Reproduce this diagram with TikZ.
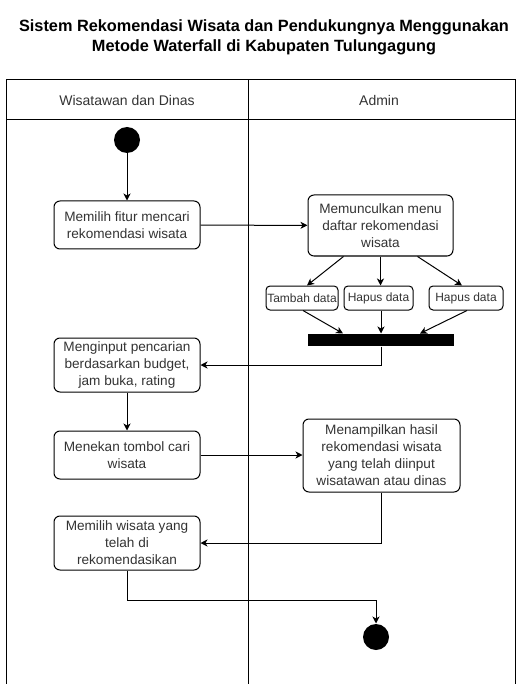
\documentclass[tikz,border=0pt]{standalone}
\usepackage{fontspec}
\setmainfont{Liberation Sans}
\usetikzlibrary{calc, arrows.meta, positioning}

\begin{document}
\begin{tikzpicture}[x=1pt, y=-1pt, line width=1pt,
    act/.style={draw, rounded corners=6pt, align=center, inner sep=1pt, text=black!80,
        font=\fontsize{13.6}{17}\selectfont},
    small/.style={act, rounded corners=4pt, font=\fontsize{12}{14}\selectfont},
    arr/.style={-{Stealth[length=7pt, width=7pt, inset=2pt]}},
    dot/.style={circle, fill=black, inner sep=0pt, minimum size=26pt}]
    \useasboundingbox (0,0) rectangle (520,684);
    \node (title) at (264,37) [align=center, font=\fontsize{16.3}{20}\bfseries]
        {Sistem Rekomendasi Wisata dan Pendukungnya Menggunakan\\Metode Waterfall di Kabupaten Tulungagung};
    \draw (6,684) -- (6,80) -- (515,80) -- (515,684);
    \draw (6,120) -- (515,120);
    \draw (248,80) -- (248,684);
    \node (laneA) at (127,100) [text=black!80, font=\fontsize{14}{17}\selectfont] {Wisatawan dan Dinas};
    \node (laneB) at (379,100) [text=black!80, font=\fontsize{14}{17}\selectfont] {Admin};
    \node (start) at (127,140) [dot] {};
    \node (pilih) at (127,225) [act, minimum width=146pt, minimum height=48pt]
        {Memilih fitur mencari\\rekomendasi wisata};
    \node (menu) at (380.5,225.5) [act, minimum width=145pt, minimum height=61pt]
        {Memunculkan menu\\daftar rekomendasi\\wisata};
    \node (tambah) at (302,298) [small, minimum width=72pt, minimum height=24pt] {Tambah data};
    \node (hapusA) at (378.5,298) [small, minimum width=69pt, minimum height=24pt] {Hapus data};
    \node (hapusB) at (466,298) [small, minimum width=74pt, minimum height=24pt] {Hapus data};
    \node (bar) at (381,340) [fill=black, inner sep=0pt, minimum width=146pt, minimum height=12pt] {};
    \node (input) at (127,365) [act, minimum width=146pt, minimum height=54pt]
        {Menginput pencarian\\berdasarkan budget,\\jam buka, rating};
    \node (tekan) at (127,455) [act, minimum width=146pt, minimum height=48pt]
        {Menekan tombol cari\\wisata};
    \node (hasil) at (381.5,455.5) [act, minimum width=157pt, minimum height=73pt]
        {Menampilkan hasil\\rekomendasi wisata\\yang telah diinput\\wisatawan atau dinas};
    \node (pilihW) at (127,543) [act, minimum width=146pt, minimum height=54pt]
        {Memilih wisata yang\\telah di\\rekomendasikan};
    \node (end) at (376,637) [dot] {};
    \coordinate (turn) at (376,600);
    \draw[arr] (start) -- (pilih);
    \draw[arr] (pilih) -- (menu);
    \draw[arr] ([xshift=-37pt]menu.south) -- ([xshift=5pt]tambah.north);
    \draw[arr] (menu.south) -- (menu.south |- hapusA.north);
    \draw[arr] ([xshift=37pt]menu.south) -- ([xshift=-4pt]hapusB.north);
    \draw[arr] ([xshift=1pt]tambah.south) -- ([xshift=-38pt]bar.north);
    \draw[arr] (hapusA.south -| bar.north) -- (bar.north);
    \draw[arr] ([xshift=1pt]hapusB.south) -- ([xshift=39pt]bar.north);
    \draw[arr] (bar.south) |- (input.east);
    \draw[arr] (input) -- (tekan);
    \draw[arr] (tekan) -- (hasil.west |- tekan.east);
    \draw[arr] (hasil.south) |- (pilihW.east);
    \draw[arr] (pilihW.south) |- (turn) -- (end.north);
\end{tikzpicture}
\end{document}
